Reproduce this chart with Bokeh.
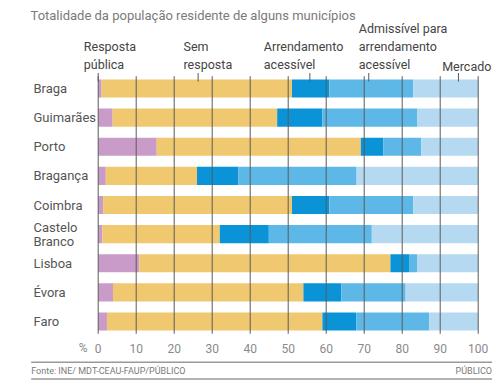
from bokeh.plotting import figure
from bokeh.models import ColumnDataSource, Range1d
from bokeh.core.properties import value
from bokeh.embed import file_html
from bokeh.resources import INLINE

# ---------------- data ----------------
cities = ["Braga", "Guimarães", "Porto", "Bragança", "Coimbra",
          "Castelo\nBranco", "Lisboa", "Évora", "Faro"]
resposta_publica = [0.9, 3.8, 15.4, 2.0, 1.3, 1.1, 10.8, 3.9, 2.3]
sem_resposta = [50.1, 43.3, 53.7, 24.0, 49.7, 30.9, 66.1, 50.1, 56.7]
arrendamento_acessivel = [9.8, 11.9, 5.9, 10.9, 9.8, 12.9, 4.9, 10.0, 8.9]
admissivel = [22.1, 25.0, 10.0, 31.1, 22.1, 27.1, 2.1, 16.9, 19.2]
mercado = [17.1, 16.0, 15.0, 32.0, 17.1, 28.0, 16.1, 19.1, 12.9]

series_names = ["Resposta\npública", "Sem\nresposta", "Arrendamento\nacessível",
                "Admissível para\narrendamento\nacessível", "Mercado"]
series_pointer = [0, 26.3, 55.7, 71.2, 94.8]   # where each series label points
x_ticks = [0, 10, 20, 30, 40, 50, 60, 70, 80, 90, 100]
x_tick_labels = [str(t) for t in x_ticks]

title_text = "Totalidade da população residente de alguns municípios"
source_text = "Fonte: INE/ MDT-CEAU-FAUP/PÚBLICO"
brand_text = "PÚBLICO"

# ---------------- styles / layout ----------------
colors = ["#c89bc9", "#efc870", "#0b93d8", "#5db8e7", "#b5d9f1"]
FONT = "Roboto"
W, H = 500, 386
X0_PX, X_PX_PER_UNIT = 97.7, 3.8        # page x of value 0, px per percent
Y0_PX, Y_PX_PER_ROW = 88.0, 29.125      # page y of first row centre, px per row


def px_x(px):
    return (px - X0_PX) / X_PX_PER_UNIT


def px_y(py):
    return (py - Y0_PX) / Y_PX_PER_ROW


label_left = [83.3, 183.0, 263.3, 358.3, 441.7]   # page x of series labels
label_bottom = [72.0, 72.0, 72.0, 72.0, 73.0]     # page y of series label bottoms

keys = ["pub", "sem", "arr", "adm", "mer"]
rows = list(range(len(cities)))
src = ColumnDataSource(dict(y=rows, pub=resposta_publica, sem=sem_resposta,
                            arr=arrendamento_acessivel, adm=admissivel, mer=mercado))

p = figure(width=W, height=H, output_backend="svg", toolbar_location=None,
           x_range=Range1d(px_x(0), px_x(W)), y_range=Range1d(px_y(H), px_y(0)),
           min_border=0, x_axis_location=None, y_axis_location=None,
           outline_line_color=None, background_fill_color="white",
           border_fill_color="white")
p.xgrid.visible = False
p.ygrid.visible = False

p.hbar_stack(keys, y="y", height=0.62, color=colors, line_color=None, source=src)

# vertical grid lines, drawn over the bars
n = len(x_ticks)
p.segment(x0=x_ticks, x1=x_ticks, y0=[px_y(75.7)] * n, y1=[px_y(333.3)] * n,
          line_color="#5a5a5a", line_width=1)

# pointer ticks for series labels
m = len(series_pointer)
p.segment(x0=series_pointer, x1=series_pointer, y0=[px_y(72.5)] * m,
          y1=[px_y(81)] * m, line_color="#5a5a5a", line_width=1)

# series labels
p.text(x=[px_x(v) for v in label_left], y=[px_y(v) for v in label_bottom],
       text=series_names, text_align="left", text_baseline="bottom",
       text_font=value(FONT), text_font_size="12.5px", text_color="#444444",
       text_line_height=1.22)

# x tick labels
p.text(x=x_ticks, y=[px_y(347.5)] * n, text=x_tick_labels, text_align="center",
       text_baseline="middle", text_font=value(FONT), text_font_size="12px",
       text_color="#8a8a8a")
p.text(x=[px_x(82.7)], y=[px_y(347.5)], text=["%"], text_align="center",
       text_baseline="middle", text_font=value(FONT), text_font_size="12px",
       text_color="#8a8a8a")

# city names
p.text(x=[px_x(33)] * len(cities), y=rows, text=cities, text_align="left",
       text_baseline="middle", text_font=value(FONT), text_font_size="13px",
       text_color="#555555", text_line_height=0.95)

# title
p.text(x=[px_x(30)], y=[px_y(15)], text=[title_text], text_align="left",
       text_baseline="middle", text_font=value(FONT), text_font_size="13px",
       text_color="#7a7a7a")

# footer rules and source
p.segment(x0=[px_x(30.7)] * 2, x1=[px_x(491.5)] * 2, y0=[px_y(361.7), px_y(378.5)],
          y1=[px_y(361.7), px_y(378.5)], line_color="#9a9a9a", line_width=1.6)
p.text(x=[px_x(30.7)], y=[px_y(370)], text=[source_text], text_align="left",
       text_baseline="middle", text_font=value(FONT), text_font_size="9px",
       text_color="#7a7a7a")
p.text(x=[px_x(491.5)], y=[px_y(370)], text=[brand_text], text_align="right",
       text_baseline="middle", text_font=value(FONT), text_font_size="9px",
       text_color="#7a7a7a")

open("out.html", "w").write(file_html(p, INLINE))
